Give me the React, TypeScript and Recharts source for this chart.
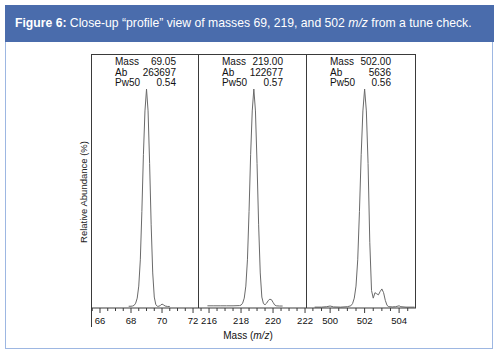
import { LineChart, Line, XAxis, YAxis } from "recharts";

// peak profiles (mass in m/z, abundance in %)
const mass69 = [67.85, 68.0, 68.1, 68.2, 68.3, 68.4, 68.5, 68.6, 68.7, 68.8, 68.9, 69.0, 69.1, 69.2, 69.3, 69.4, 69.5, 69.6, 69.7, 69.8, 69.9, 70.0, 70.1, 70.2, 70.35, 70.5];
const abund69 = [0.8, 0.8, 0.9, 1.2, 2.2, 4.5, 10, 22, 44, 70, 90, 100, 90, 66, 38, 16, 5, 1.5, 0.8, 0.8, 1.2, 1.8, 1.4, 0.9, 0.7, 0.7];

const mass219 = [215.9, 216.3, 216.7, 217.1, 217.5, 217.9, 218.0, 218.1, 218.2, 218.3, 218.4, 218.5, 218.6, 218.7, 218.8, 218.9, 219.0, 219.1, 219.2, 219.3, 219.4, 219.5, 219.6, 219.7, 219.8, 219.9, 220.0, 220.1, 220.2, 220.4, 220.6];
const abund219 = [1, 1, 1, 1, 1, 1.1, 1.3, 2.2, 4.5, 10, 22, 44, 70, 90, 100, 90, 66, 38, 16, 5, 2, 1.5, 2.2, 3.4, 4, 3.8, 2.6, 1.4, 1, 0.9, 0.9];

const mass502 = [499.1, 499.5, 499.8, 500.0, 500.2, 500.6, 501.0, 501.2, 501.3, 501.4, 501.5, 501.6, 501.7, 501.8, 501.9, 502.0, 502.1, 502.2, 502.3, 502.4, 502.5, 502.6, 502.7, 502.8, 502.9, 503.0, 503.1, 503.2, 503.3, 503.4, 503.6, 503.8, 504.0, 504.1, 504.4, 504.9];
const abund502 = [0.4, 0.4, 0.6, 0.9, 0.5, 0.4, 0.6, 1, 2, 4.5, 10, 22, 44, 70, 90, 100, 90, 66, 30, 8, 4.5, 7, 6.5, 6, 7.5, 8.7, 7, 3.5, 1.2, 0.6, 0.5, 0.6, 1, 0.6, 0.4, 0.4];

const ticks69 = [65.5, 66, 66.5, 67, 67.5, 68, 68.5, 69, 69.5, 70, 70.5, 71, 71.5, 72];
const ticks219 = [215.5, 216, 216.5, 217, 217.5, 218, 218.5, 219, 219.5, 220, 220.5, 221, 221.5, 222];
const ticks502 = [499, 499.5, 500, 500.5, 501, 501.5, 502, 502.5, 503, 503.5, 504, 504.5];

const infoLabels = ["Mass", "Ab", "Pw50"];
const info69 = ["69.05", "263697", "0.54"];
const info219 = ["219.00", "122677", "0.57"];
const info502 = ["502.00", "5636", "0.56"];

const toRows = (m: number[], a: number[]) => m.map((x, i) => ({ mass: x, ab: a[i] }));

const panels = [
  { key: "p69", data: toRows(mass69, abund69), domain: [65.42, 72.32], ticks: ticks69, info: info69, left: 91, width: 107 },
  { key: "p219", data: toRows(mass219, abund219), domain: [215.31, 222.06], ticks: ticks219, info: info219, left: 198, width: 108 },
  { key: "p502", data: toRows(mass502, abund502), domain: [498.6, 504.98], ticks: ticks502, info: info502, left: 306, width: 110 },
];

const PLOT_TOP = 54;
const PLOT_H = 254;
const AXIS_H = 30;
const ink = "#3a3a3a";
const font = '"Liberation Sans", Arial, sans-serif';

const MassTick = (props: any) => {
  const { x, y, payload } = props;
  const v = payload.value;
  const major = v % 2 === 0;
  return (
    <g>
      <line x1={x} x2={x} y1={y} y2={y + (major ? 5 : 3)} stroke={ink} strokeWidth={1} />
      {major && (
        <text x={x} y={y + 16} textAnchor="middle" fontSize={9.5} fill="#111" fontFamily={font}>
          {v}
        </text>
      )}
    </g>
  );
};

export default function App() {
  return (
    <div style={{ position: "absolute", left: 0, top: 0, width: 500, height: 356, background: "#fff", fontFamily: font }}>
      <style>{".recharts-surface{overflow:visible}"}</style>
      {/* frame + header */}
      <div style={{ position: "absolute", left: 5, top: 5, width: 486, height: 342, border: "1.5px solid #9db7e2" }} />
      <div
        style={{
          position: "absolute", left: 5, top: 5, width: 489, height: 37, background: "#4a6cac",
          color: "#fff", fontSize: 12.2, lineHeight: "37px", paddingLeft: 10, boxSizing: "border-box", whiteSpace: "nowrap",
        }}
      >
        <b>Figure 6:</b> Close-up “profile” view of masses 69, 219, and 502 <i>m/z</i> from a tune check.
      </div>

      {panels.map((p, idx) => (
        <div key={p.key}>
          <div style={{ position: "absolute", left: p.left, top: PLOT_TOP }}>
            <LineChart width={p.width} height={PLOT_H + AXIS_H} data={p.data} margin={{ top: 0, right: 0, bottom: 0, left: 0 }}>
              <XAxis
                dataKey="mass"
                type="number"
                domain={p.domain}
                allowDataOverflow
                ticks={p.ticks}
                interval={0}
                height={AXIS_H}
                tickSize={0}
                tickMargin={0}
                tickLine={false}
                axisLine={{ stroke: ink }}
                tick={<MassTick />}
              />
              <YAxis hide domain={[0, 116]} allowDataOverflow />
              <Line dataKey="ab" type="linear" stroke="#6a6a6a" strokeWidth={1} dot={false} isAnimationActive={false} />
            </LineChart>
          </div>
          {/* panel frame */}
          <div
            style={{
              position: "absolute", left: p.left, top: PLOT_TOP, width: p.width, height: idx === 0 ? 273 : PLOT_H,
              borderTop: "1px solid " + ink, borderLeft: "1px solid " + ink,
              borderRight: idx === panels.length - 1 ? "1px solid " + ink : "none",
              boxSizing: "border-box", pointerEvents: "none",
            }}
          />
          {/* Mass / Ab / Pw50 readout */}
          <div style={{ position: "absolute", left: p.left + 24, top: 57, width: 61, fontSize: 10, lineHeight: "10.5px", color: "#111" }}>
            {infoLabels.map((l, i) => (
              <div key={l} style={{ display: "flex", justifyContent: "space-between" }}>
                <span>{l}</span>
                <span>{p.info[i]}</span>
              </div>
            ))}
          </div>
        </div>
      ))}

      <div
        style={{
          position: "absolute", left: 83, top: 192, transform: "translate(-50%,-50%) rotate(-90deg)",
          fontSize: 9.5, color: "#222", whiteSpace: "nowrap",
        }}
      >
        Relative Abundance (%)
      </div>
      <div style={{ position: "absolute", left: 248, top: 335, transform: "translate(-50%,-50%)", fontSize: 10, color: "#111", whiteSpace: "nowrap" }}>
        Mass (<i>m/z</i>)
      </div>
    </div>
  );
}
